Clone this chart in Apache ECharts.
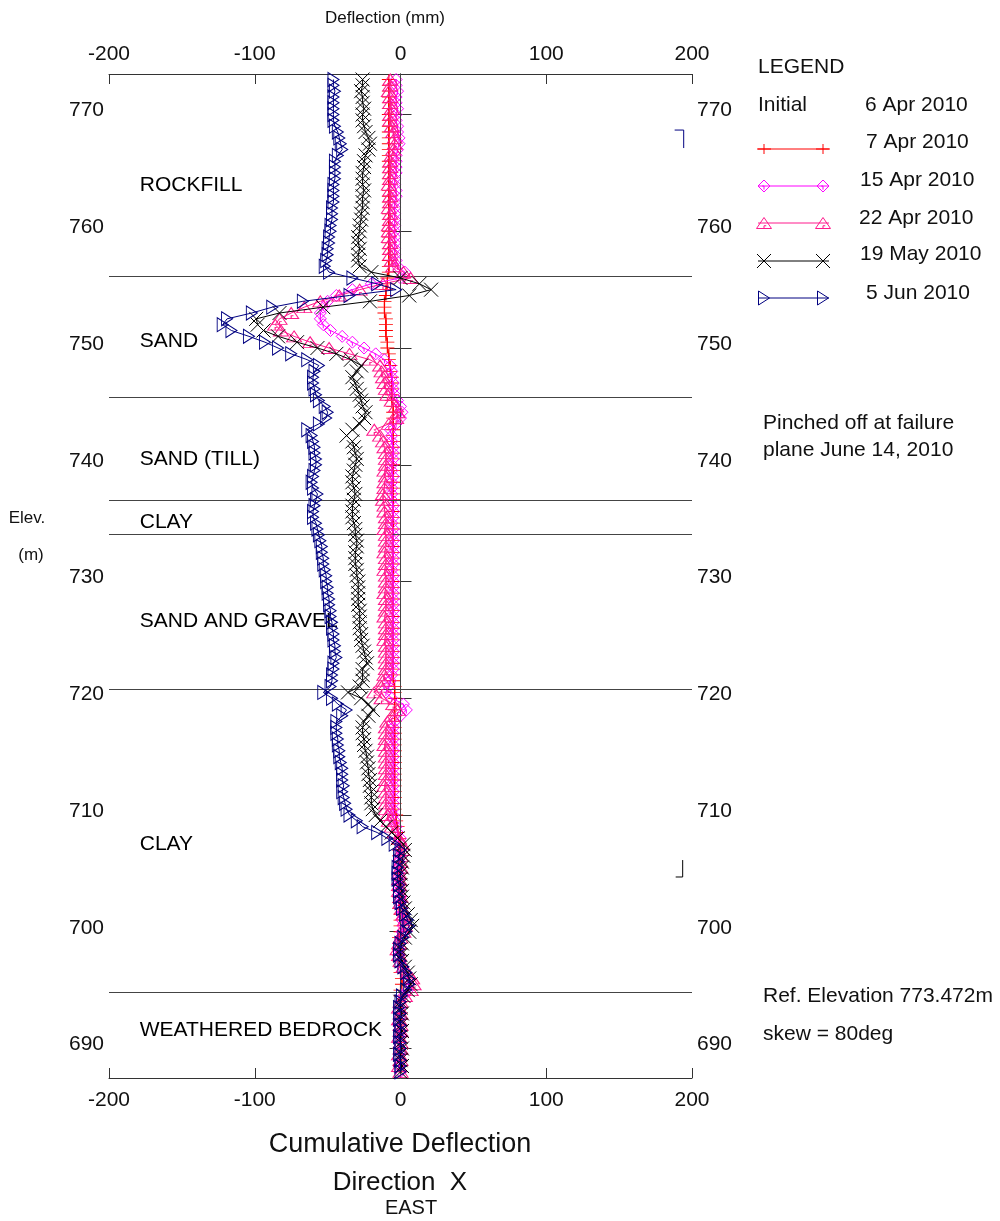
<!DOCTYPE html>
<html><head><meta charset="utf-8">
<script src="https://cdn.jsdelivr.net/npm/echarts@6/dist/echarts.min.js"></script>
<style>html,body{margin:0;padding:0;background:#fff}#c{width:1000px;height:1221px}</style>
</head><body><div id="c"></div>
<script>
// ---------- DATA ----------
const elevations = [
773,772.5,772,771.5,771,770.5,770,769.5,769,768.5,
768,767.5,767,766.5,766,765.5,765,764.5,764,763.5,
763,762.5,762,761.5,761,760.5,760,759.5,759,758.5,
758,757.5,757,756.5,756,755.5,755,754.5,754,753.5,
753,752.5,752,751.5,751,750.5,750,749.5,749,748.5,
748,747.5,747,746.5,746,745.5,745,744.5,744,743.5,
743,742.5,742,741.5,741,740.5,740,739.5,739,738.5,
738,737.5,737,736.5,736,735.5,735,734.5,734,733.5,
733,732.5,732,731.5,731,730.5,730,729.5,729,728.5,
728,727.5,727,726.5,726,725.5,725,724.5,724,723.5,
723,722.5,722,721.5,721,720.5,720,719.5,719,718.5,
718,717.5,717,716.5,716,715.5,715,714.5,714,713.5,
713,712.5,712,711.5,711,710.5,710,709.5,709,708.5,
708,707.5,707,706.5,706,705.5,705,704.5,704,703.5,
703,702.5,702,701.5,701,700.5,700,699.5,699,698.5,
698,697.5,697,696.5,696,695.5,695,694.5,694,693.5,
693,692.5,692,691.5,691,690.5,690,689.5,689,688.5,
688];

const apr7 = [
-8,-8,-8,-8,-8,-8,-8,-8,-8,-8,
-8,-8,-8,-8,-8,-8,-8,-8,-8,-8,
-8,-8,-8,-8,-8,-8,-8,-8,-8,-8,
-8,-8,-8,-8,-9,-9,-10,-10,-11,-11,
-11,-10,-10,-10,-10,-9,-9,-8,-8,-7,
-7,-6,-6,-6,-6,-6,-5,-5,-5,-5,
-5,-5,-5,-5,-5,-5,-5,-5,-5,-5,
-5,-5,-5,-5,-5,-5,-5,-5,-5,-5,
-5,-5,-5,-5,-5,-5,-5,-5,-5,-5,
-5,-5,-5,-5,-5,-5,-5,-5,-5,-5,
-5,-5,-5,-5,-4,-4,-4,-4,-4,-4,
-4,-4,-4,-4,-4,-4,-4,-4,-4,-4,
-4,-4,-4,-4,-4,-4,-3,-3,-2,-2,
-1,-1,-1,-1,-1,-1,-1,-1,-1,-1,
-1,-1,-1,0,0,0,0,-1,-1,-1,
-1,-1,0,0,1,1,0,0,0,0,
0,0,0,0,0,0,0,0,0,0,
0];

const apr15 = [
-3,-3,-2,-3,-3,-2,-3,-3,-2,-2,
-1,-1,-2,-3,-3,-3,-3,-4,-4,-3,
-3,-4,-4,-4,-4,-4,-4,-4,-4,-4,
-4,-3,-2,3,0,-20,-33,-44,-50,-53,
-55,-55,-53,-48,-40,-33,-25,-17,-11,-7,
-6,-6,-5,-5,-4,-2,0,1,0,-3,
-7,-6,-6,-5,-5,-5,-6,-6,-5,-6,
-6,-6,-6,-5,-5,-5,-6,-5,-5,-5,
-5,-5,-5,-5,-6,-5,-5,-5,-5,-5,
-5,-5,-5,-5,-5,-5,-5,-5,-5,-5,
-5,-5,-6,-7,-8,-10,-6,2,4,0,
-4,-5,-5,-5,-5,-5,-5,-5,-5,-5,
-5,-5,-5,-5,-5,-5,-5,-4,-3,-2,
0,0,0,0,-1,-1,-1,-1,-1,-1,
0,0,0,1,1,2,1,0,-1,-1,
-1,0,1,3,5,6,5,2,0,0,
0,0,-1,0,0,-1,0,0,0,-1,
0];

const apr22 = [
-7,-7,-8,-7,-7,-6,-7,-7,-6,-5,
-4,-4,-5,-6,-7,-7,-7,-7,-8,-7,
-7,-7,-8,-7,-7,-8,-8,-8,-7,-7,
-7,-6,-5,2,7,-12,-28,-42,-55,-66,
-75,-83,-86,-82,-73,-62,-49,-35,-21,-14,
-13,-12,-11,-10,-9,-6,-3,-2,-3,-8,
-18,-14,-12,-11,-10,-10,-10,-11,-10,-11,
-11,-12,-12,-11,-11,-10,-10,-11,-10,-10,
-10,-11,-10,-10,-11,-10,-10,-10,-11,-10,
-10,-10,-11,-10,-10,-10,-11,-10,-10,-10,
-10,-10,-11,-12,-13,-18,-13,-5,-2,-6,
-9,-10,-10,-10,-11,-10,-10,-10,-10,-10,
-10,-11,-10,-10,-10,-10,-9,-8,-6,-4,
-1,1,1,0,0,0,-1,-1,-1,-1,
0,0,1,2,3,3,2,0,-1,-2,
-1,0,2,5,8,9,7,3,0,-1,
0,-1,0,0,-1,0,0,-1,0,-1,
0];

const may19 = [
-26,-26,-27,-26,-26,-25,-26,-26,-25,-24,
-22,-21,-22,-24,-25,-25,-26,-26,-26,-25,
-26,-26,-26,-27,-27,-28,-28,-29,-29,-28,
-29,-29,-28,-20,0,13,21,6,-21,-53,
-83,-99,-98,-94,-84,-71,-57,-44,-34,-27,
-30,-33,-31,-30,-28,-27,-26,-24,-25,-28,
-33,-37,-33,-32,-31,-30,-31,-32,-33,-33,
-32,-31,-32,-33,-33,-33,-32,-31,-31,-30,
-30,-31,-31,-31,-30,-30,-29,-29,-29,-29,
-29,-28,-28,-28,-28,-27,-27,-26,-25,-24,
-23,-26,-26,-26,-28,-36,-27,-22,-19,-22,
-25,-26,-26,-25,-25,-24,-23,-23,-22,-22,
-21,-21,-20,-20,-20,-19,-17,-14,-10,-6,
-2,2,3,2,1,1,0,0,0,1,
1,2,3,5,7,8,6,3,1,0,
0,1,3,5,6,7,5,2,0,0,
1,0,0,1,0,0,1,0,0,1,
0];

const jun5 = [
-46,-46,-45,-46,-46,-46,-46,-46,-45,-43,
-42,-41,-40,-43,-45,-45,-45,-45,-46,-46,
-46,-46,-47,-47,-47,-48,-48,-49,-49,-50,
-50,-51,-52,-49,-33,-16,-3,-35,-67,-88,
-102,-119,-122,-116,-104,-93,-84,-75,-64,-56,
-59,-60,-60,-59,-58,-56,-52,-50,-51,-56,
-64,-61,-60,-59,-59,-58,-58,-59,-60,-61,
-60,-57,-58,-59,-60,-60,-58,-57,-56,-55,
-54,-54,-53,-53,-52,-51,-51,-50,-50,-49,
-49,-48,-48,-47,-47,-46,-46,-45,-45,-44,
-46,-46,-47,-47,-48,-53,-47,-43,-37,-40,
-44,-44,-44,-43,-43,-42,-42,-41,-40,-40,
-40,-39,-40,-39,-38,-37,-35,-30,-26,-16,
-9,-4,0,-1,-1,-2,-2,-2,-1,-1,
-1,0,1,3,5,6,4,2,0,-1,
-1,0,2,4,6,6,4,1,0,-1,
0,-1,0,0,-1,0,0,-1,0,0,
0];

const seriesNames = ['7 Apr 2010','15 Apr 2010','22 Apr 2010','19 May 2010','5 Jun 2010'];
const xTicks = [-200,-100,0,100,200];
const elevTicks = [690,700,710,720,730,740,750,760,770];
const layerNames = ['ROCKFILL','SAND','SAND (TILL)','CLAY','SAND AND GRAVEL','CLAY','WEATHERED BEDROCK'];
const layerLabelElev = [763.96,750.6,740.49,735.1,726.61,707.51,691.58];
const layerBoundaries = [756.17,745.8,736.98,734.07,720.79,694.83];
const pinchTopX = [188.1,194.3,194.3];
const pinchTopY = [768.67,768.67,767.13];
const pinchBotX = [193.6,193.6,188.8];
const pinchBotY = [706.14,704.69,704.69];

// ---------- STYLE ----------
const FONT = '"Liberation Sans", Arial, sans-serif';
const colors = ['#ff0000','#ff00ff','#ff1a8c','#000000','#000080'];
// symbol outlines in a 10x10 box: list of [points, closed]
const symShapes = [
  [[[[0,5],[10,5]],false],[[[5,0],[5,10]],false]],
  [[[[5,0],[10,5],[5,10],[0,5]],true],[[[3.5,5],[5,5],[5,8]],false]],
  [[[[5,0],[10,10],[0,10]],true],[[[5,10],[5,7.5],[6.5,7.5]],false]],
  [[[[0,0],[10,10]],false],[[[10,0],[0,10]],false]],
  [[[[0,0],[10,5],[0,10]],true]]
];
const symPaths = symShapes.map(parts => parts.map(([pts,closed]) =>
  pts.map((p,i)=>(i?'L':'M')+p[0]+','+p[1]).join('') + (closed?'Z':'')).join(''));
const symSizes = [[14,10],[12,12],[15,11],[14,14],[11,14]];
const allVals = [apr7, apr15, apr22, may19, jun5];

const chart = echarts.init(document.getElementById('c'), null, {renderer:'canvas'});

const series = allVals.map((vals, k) => ({
  type:'line', name: seriesNames[k],
  data: elevations.map((e,i)=>[vals[i], e]),
  xAxisIndex:0, yAxisIndex:0,
  symbol:'path://'+symPaths[k], symbolSize: symSizes[k], showSymbol:true,
  lineStyle:{color:colors[k], width:1},
  itemStyle:{color:'rgba(0,0,0,0)', borderColor:colors[k], borderWidth:1},
  emphasis:{disabled:true}, silent:true, z: 3+k
}));

series.unshift({
  type:'line', data:[], xAxisIndex:0, yAxisIndex:0, silent:true, z:2,
  markLine:{silent:true, symbol:['none','none'], label:{show:false}, animation:false,
    lineStyle:{color:'#444', width:1, type:'solid'},
    data:[{xAxis:0}].concat(layerBoundaries.map(v=>({yAxis:v})))}
});

series.push({
  type:'scatter', xAxisIndex:0, yAxisIndex:0, silent:true, z:1,
  symbolSize:0, itemStyle:{opacity:1},
  data: layerNames.map((n,i)=>({value:[-178.9, layerLabelElev[i]], name:n})),
  label:{show:true, position:'right', distance:0, formatter:p=>p.name,
    fontFamily:FONT, fontSize:21, color:'#000', opacity:1}
});
series.push({
  type:'line', xAxisIndex:0, yAxisIndex:0, silent:true, symbol:'none',
  data: pinchTopX.map((x,i)=>[x, pinchTopY[i]]),
  lineStyle:{color:'#000080', width:1}
});
series.push({
  type:'line', xAxisIndex:0, yAxisIndex:0, silent:true, symbol:'none',
  data: pinchBotX.map((x,i)=>[x, pinchBotY[i]]),
  lineStyle:{color:'#000000', width:1}
});

const axisLineStyle = {show:true, lineStyle:{color:'#333', width:1}};
function xAxisDef(pos, margin){
  return {type:'value', min:-200, max:200, interval:100, position:pos,
    axisLine:axisLineStyle, splitLine:{show:false},
    axisTick:{show:true, inside:true, length:10, lineStyle:{color:'#333'}},
    axisLabel:{fontFamily:FONT, fontSize:21, color:'#111', margin:margin}};
}
function yAxisDef(pos){
  return {type:'value', min:687.472, max:773.472, position:pos,
    axisLine:axisLineStyle, splitLine:{show:false},
    axisTick:{show:true, inside:true, length:11, customValues:elevTicks, lineStyle:{color:'#333'}},
    axisLabel:{fontFamily:FONT, fontSize:21, color:'#111', margin:5,
      verticalAlign:'bottom', lineHeight:8, customValues:elevTicks}};
}

// legend & annotation graphics
const G = [];
function txt(x,y,t,size,align){
  G.push({type:'text', x:x, y:y, silent:true,
    style:{text:t, font: size+'px '+FONT, fill:'#111', align:align||'left', verticalAlign:'middle'}});
}
function drawSym(k, cx, cy){
  const w = symSizes[k][0], h = symSizes[k][1];
  symShapes[k].forEach(([pts,closed])=>{
    const P = pts.map(p=>[cx - w/2 + p[0]*w/10, cy - h/2 + p[1]*h/10]);
    G.push({type: closed?'polygon':'polyline', silent:true, shape:{points:P},
      style:{fill:'none', stroke:colors[k], lineWidth:1}});
  });
}
txt(758,67,'LEGEND',21);
txt(758,105,'Initial',21);
txt(865,105,'6 Apr 2010',21);
const legRowsY = [149,186,223,261,298];
const legTextX = [866,860,859,860,866];
const legTextY = [142,180,218,254,293];
seriesNames.forEach((n,k)=>{
  const y = legRowsY[k];
  G.push({type:'line', silent:true, shape:{x1:758,y1:y,x2:829,y2:y}, style:{stroke:colors[k], lineWidth:1}});
  drawSym(k,764,y); drawSym(k,823,y);
  txt(legTextX[k], legTextY[k], n, 21);
});
txt(763,423,'Pinched off at failure',21);
txt(763,450,'plane June 14, 2010',21);
txt(763,996,'Ref. Elevation 773.472m',21);
txt(763,1034,'skew = 80deg',21);
txt(27,518,'Elev.',17,'center');
txt(31,555,'(m)',17,'center');
txt(385,18,'Deflection (mm)',17,'center');
txt(400,1145,'Cumulative Deflection',27,'center');
txt(400,1183,'Direction  X',26,'center');
txt(411,1208,'EAST',20,'center');

chart.setOption({
  animation:false,
  backgroundColor:'#fff',
  grid:{left:109, top:74, width:583, height:1004, containLabel:false},
  xAxis:[xAxisDef('bottom',12), xAxisDef('top',9)],
  yAxis:[yAxisDef('left'), yAxisDef('right')],
  series: series,
  graphic: G
});
</script>
</body></html>
